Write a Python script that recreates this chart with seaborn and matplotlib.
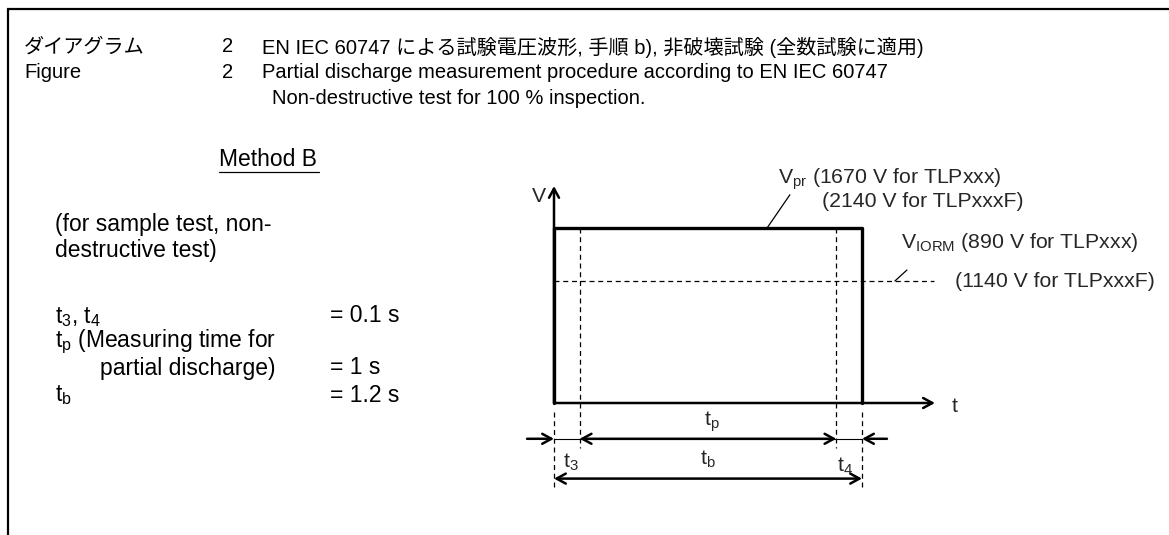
import matplotlib
matplotlib.use("Agg")
import matplotlib.pyplot as plt
import seaborn as sns

# timing of the test pulse (s)
t_3 = 0.1
t_4 = 0.1
t_p = 1.0
t_b = 1.2

# waveform corners (time, relative voltage as drawn)
wave_t = [0, 0, t_b, t_b]
wave_v = [0, 1.0, 1.0, 0]
v_iorm_level = 0.697  # drawn height of the V_IORM line

header_jp = "EN IEC 60747 による試験電圧波形, 手順 b), 非破壊試験 (全数試験に適用)"
header_en = "Partial discharge measurement procedure according to EN IEC 60747"
header_en2 = "Non-destructive test for 100 % inspection."

sns.set_theme(style="white")
plt.rcParams["font.family"] = ["Liberation Sans", "Noto Sans CJK JP", "DejaVu Sans"]
plt.rcParams["mathtext.fontset"] = "custom"
plt.rcParams["mathtext.rm"] = "Liberation Sans"
plt.rcParams["mathtext.it"] = "Liberation Sans"

W, H = 1169, 535
fig = plt.figure(figsize=(W / 100, H / 100), dpi=100)
fig.patch.set_facecolor("white")

# page axes in pixel coordinates
bg = fig.add_axes([0, 0, 1, 1])
bg.set_xlim(0, W)
bg.set_ylim(H, 0)
bg.axis("off")
bg.plot([7, W], [9, 9], color="black", lw=1.6, solid_capstyle="butt")
bg.plot([8, 8], [9, H], color="black", lw=1.6, solid_capstyle="butt")

fs_head = 14.5
fs_body = 16.5
fs_lab = 15.3
head = dict(fontsize=fs_head, color="black", va="center", ha="left")
body = dict(fontsize=fs_body, color="black", va="center", ha="left")
bg.text(24, 47, "ダイアグラム", **head)
bg.text(222, 47, "2", **head)
bg.text(262, 47, header_jp, **head)
bg.text(24, 73, "Figure", **head)
bg.text(222, 73, "2", **head)
bg.text(262, 73, header_en, **head)
bg.text(272, 99, header_en2, **head)

bg.text(219, 160, "Method B", **body)
bg.plot([219, 319], [172, 172], color="black", lw=0.9)

bg.text(55, 225, "(for sample test, non-", **body)
bg.text(55, 250, "destructive test)", **body)
bg.text(55, 317, r"$\mathregular{t_3}$, $\mathregular{t_4}$", **body)
bg.text(330, 315, f"= {t_3} s", **body)
bg.text(55, 342, r"$\mathregular{t_p}$ (Measuring time for", **body)
bg.text(100, 368, "partial discharge)", **body)
bg.text(330, 368, f"= {t_p:g} s", **body)
bg.text(55, 395, r"$\mathregular{t_b}$", **body)
bg.text(330, 395, f"= {t_b} s", **body)

# waveform axes: 0 s at x=554 px, 256.7 px per second; 0 V at y=403 px, 1.0 at 228 px
px_left, px_right, px_top, px_bot = 500, 1000, 170, 500
ax = fig.add_axes([px_left / W, (H - px_bot) / H, (px_right - px_left) / W, (px_bot - px_top) / H])
sx, x0 = 256.7, 554
sy, y0 = 175, 403
ax.set_xlim((px_left - x0) / sx, (px_right - x0) / sx)
ax.set_ylim((y0 - px_bot) / sy, (y0 - px_top) / sy)
ax.axis("off")
ax.patch.set_alpha(0)

sns.lineplot(x=wave_t, y=wave_v, sort=False, estimator=None, color="black", lw=2.4, ax=ax)

def arrow(x1, y1, x2, y2, style="->", lw=1.8):
    ax.annotate("", xy=(x2, y2), xytext=(x1, y1),
                arrowprops=dict(arrowstyle=f"{style},head_length=0.55,head_width=0.3",
                                color="black", lw=lw, shrinkA=0, shrinkB=0),
                annotation_clip=False)

# axes
arrow(0, 0, 1.484, 0)
arrow(0, 0, 0, 1.24)
ax.text(-0.06, 1.18, "V", fontsize=fs_lab, ha="center", va="center")
ax.text(1.56, -0.02, "t", fontsize=fs_lab, ha="center", va="center")

dash = dict(color="black", lw=0.9, ls=(0, (4, 3)))
ax.plot([0, 1.48], [v_iorm_level, v_iorm_level], **dash)
ax.plot([t_3, t_3], [1.0, -0.256], **dash)
ax.plot([t_b - t_4, t_b - t_4], [1.0, -0.256], **dash)
ax.plot([0, 0], [-0.05, -0.494], **dash)
ax.plot([t_b, t_b], [-0.05, -0.494], **dash)

# timing arrows
y_tp = -0.2045
y_tb = -0.432
ax.plot([0, t_b], [y_tp, y_tp], color="black", lw=0.8)
arrow(t_3, y_tp, t_b - t_4, y_tp, style="<->")
arrow(-0.105, y_tp, 0, y_tp)
arrow(1.297, y_tp, t_b, y_tp)
arrow(0, y_tb, t_b, y_tb, style="<->")

ax.text(0.615, -0.11, r"$\mathregular{t_p}$", fontsize=fs_lab, ha="center", va="center")
ax.text(0.6, -0.32, r"$\mathregular{t_b}$", fontsize=fs_lab, ha="center", va="center")
ax.text(0.066, -0.34, r"$\mathregular{t_3}$", fontsize=fs_lab, ha="center", va="center")
ax.text(1.134, -0.36, r"$\mathregular{t_4}$", fontsize=fs_lab, ha="center", va="center")

# voltage level labels
ax.plot([0.830, 0.919], [1.0, 1.19], color="black", lw=0.9)
ax.text(0.873, 1.28, r"$\mathregular{V_{pr}}$ (1670 V for TLPxxx)", fontsize=fs_lab, ha="left", va="center")
ax.text(1.044, 1.15, "(2140 V for TLPxxxF)", fontsize=fs_lab, ha="left", va="center")
ax.plot([1.328, 1.375], [v_iorm_level, 0.76], color="black", lw=0.9)
ax.text(1.352, 0.92, r"$\mathregular{V_{IORM}}$ (890 V for TLPxxx)", fontsize=fs_lab, ha="left", va="center")
ax.text(1.562, 0.697, "(1140 V for TLPxxxF)", fontsize=fs_lab, ha="left", va="center")

fig.savefig("out.png", dpi=100)
